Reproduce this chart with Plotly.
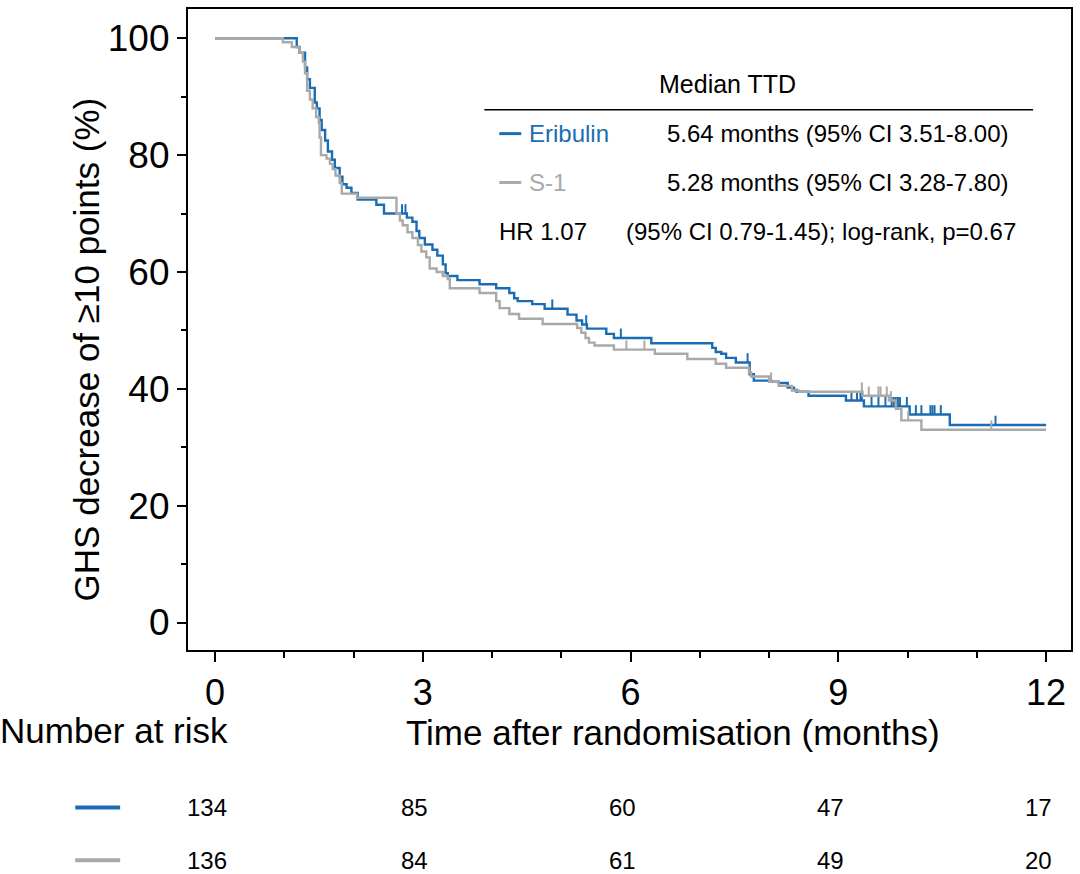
import plotly.graph_objects as go

# ---- data ----
eri_t = [0, 1.18, 1.22, 1.30, 1.33, 1.37, 1.44, 1.47, 1.51, 1.54, 1.59, 1.63, 1.69, 1.73, 1.80, 1.84,
         1.90, 1.97, 2.06, 2.33, 2.44, 2.77, 2.85, 2.91, 2.95, 3.03, 3.14, 3.21, 3.29, 3.33, 3.36,
         3.50, 3.82, 4.06, 4.25, 4.32, 4.37, 4.58, 4.76, 5.09, 5.22, 5.30, 5.37, 5.65, 5.76, 6.30,
         7.18, 7.23, 7.31, 7.38, 7.52, 7.72, 7.78, 8.03, 8.14, 8.27, 8.36, 8.40, 8.57, 9.11, 9.37,
         10.03, 10.61, 12.0]
eri_s = [100, 98.5, 97.5, 95.0, 93.0, 91.5, 89.0, 88.0, 86.0, 84.3, 82.5, 80.6, 79.2, 77.8, 76.3, 75.0,
         74.4, 73.5, 72.4, 71.5, 70.0, 69.3, 68.6, 67.0, 65.8, 64.7, 63.8, 62.8, 61.3, 59.8, 59.3,
         58.6, 57.9, 57.2, 56.4, 55.5, 55.0, 54.5, 53.7, 52.7, 51.7, 51.0, 50.3, 49.4, 48.7, 47.8,
         47.0, 46.3, 46.0, 45.3, 44.5, 42.5, 41.4, 41.2, 41.0, 40.2, 39.8, 39.5, 38.8, 38.0, 37.0,
         35.6, 33.8, 33.8]
eri_cens = [2.70, 2.75, 4.87, 5.36, 5.86, 7.69, 9.19, 9.27, 9.32, 9.34, 9.48, 9.58, 9.68, 9.77, 9.80,
            9.83, 9.86, 9.89, 9.99, 10.12, 10.20, 10.33, 10.36, 10.39, 10.48, 11.27]

s1_t = [0, 0.98, 1.11, 1.22, 1.27, 1.30, 1.33, 1.37, 1.41, 1.46, 1.50, 1.51, 1.53, 1.61, 1.66, 1.70,
        1.74, 1.80, 1.83, 2.05, 2.62, 2.67, 2.71, 2.78, 2.85, 2.93, 2.98, 3.05, 3.10, 3.20, 3.29,
        3.36, 3.39, 3.82, 4.06, 4.11, 4.25, 4.39, 4.73, 5.23, 5.29, 5.35, 5.40, 5.48, 5.76, 6.35,
        6.82, 7.23, 7.38, 7.71, 7.74, 8.00, 8.14, 8.33, 8.43, 9.35, 9.73, 9.83, 9.91, 10.20, 12.0]
s1_s = [100, 99.3, 98.5, 97.5, 96.0, 94.0, 91.0, 89.5, 88.0, 86.5, 85.5, 83.0, 80.0, 79.4, 78.5, 77.6,
        76.5, 75.2, 73.4, 72.7, 70.0, 68.8, 68.0, 66.8, 65.8, 64.6, 63.5, 62.5, 60.6, 60.0, 59.3,
        58.8, 57.2, 56.4, 55.0, 53.8, 52.8, 52.0, 51.1, 50.4, 49.6, 48.7, 47.9, 47.4, 46.7, 46.0,
        45.1, 44.3, 43.6, 42.8, 42.1, 41.2, 40.5, 39.7, 39.5, 38.8, 38.0, 36.6, 34.6, 33.0, 33.0]
s1_cens = [5.94, 6.20, 8.03, 9.34, 9.44, 9.58, 9.61, 9.70, 9.76, 10.01, 11.21]

risk_times = [0, 3, 6, 9, 12]
risk_eri = [134, 85, 60, 47, 17]
risk_s1 = [136, 84, 61, 49, 20]

x_ticks = [0, 3, 6, 9, 12]
y_ticks = [0, 20, 40, 60, 80, 100]

BLUE = "#1a6db2"
GREY = "#a9a9a9"
FONT = "Liberation Sans, Arial, Helvetica, sans-serif"


def step_value(times, surv, t):
    v = surv[0]
    for ti, si in zip(times, surv):
        if ti <= t:
            v = si
        else:
            break
    return v


def px(xp):
    return (xp - 188) / 885


def py(yp):
    return (650 - yp) / 643


fig = go.Figure()

for times, surv, cens, col in [(eri_t, eri_s, eri_cens, BLUE), (s1_t, s1_s, s1_cens, GREY)]:
    fig.add_trace(go.Scatter(x=times, y=surv, mode="lines", line=dict(color=col, width=2.4, shape="hv"),
                             showlegend=False, hoverinfo="skip"))
    cy = [step_value(times, surv, c) for c in cens]
    fig.add_trace(go.Scatter(x=cens, y=cy, mode="markers", marker=dict(size=1, color=col, opacity=0),
                             error_y=dict(type="data", symmetric=False, array=[1.6] * len(cens),
                                          arrayminus=[0] * len(cens), color=col, thickness=2, width=0),
                             showlegend=False, hoverinfo="skip"))

fig.update_layout(
    width=1080, height=874,
    margin=dict(l=188, r=7, t=7, b=224),
    paper_bgcolor="white", plot_bgcolor="white",
    font=dict(family=FONT, color="black"),
    xaxis=dict(range=[-0.39, 12.36], tickvals=x_ticks, ticktext=[str(v) for v in x_ticks],
               ticks="outside", ticklen=10, tickwidth=1.5, tickcolor="black",
               minor=dict(dtick=1, tick0=0, ticks="outside", ticklen=6, tickwidth=1.5, tickcolor="black"),
               showline=True, linecolor="black", linewidth=2.2, mirror=True, showgrid=False,
               zeroline=False, tickfont=dict(size=36, family=FONT)),
    yaxis=dict(range=[-4.7, 105], tickvals=y_ticks, ticktext=[str(v) for v in y_ticks],
               ticks="outside", ticklen=9, tickwidth=1.5, tickcolor="black",
               minor=dict(dtick=10, tick0=0, ticks="outside", ticklen=5, tickwidth=1.5, tickcolor="black"),
               showline=True, linecolor="black", linewidth=2.2, mirror=True, showgrid=False,
               zeroline=False, tickfont=dict(size=37, family=FONT)),
)

ann = []
# axis titles
ann.append(dict(text="GHS decrease of ≥10 points (%)", x=-0.115, y=py(348), xref="paper", yref="paper",
                textangle=-90, showarrow=False, font=dict(size=35), xanchor="center", yanchor="middle"))
ann.append(dict(text="Time after randomisation (months)", x=px(674), y=py(733),
                xref="paper", yref="paper", showarrow=False, font=dict(size=35),
                xanchor="center", yanchor="middle"))
ann.append(dict(text="Number at risk", x=px(-2), y=py(731), xref="paper", yref="paper",
                showarrow=False, font=dict(size=35), xanchor="left", yanchor="middle"))
# inset legend
ann.append(dict(text="Median TTD", x=px(729), y=py(82), xref="paper", yref="paper",
                showarrow=False, font=dict(size=25), xanchor="center", yanchor="middle"))
ann.append(dict(text="Eribulin", x=px(528), y=py(132), xref="paper", yref="paper",
                showarrow=False, font=dict(size=24, color=BLUE), xanchor="left", yanchor="middle"))
ann.append(dict(text="5.64 months (95% CI 3.51-8.00)", x=px(666), y=py(132),
                xref="paper", yref="paper", showarrow=False, font=dict(size=24),
                xanchor="left", yanchor="middle"))
ann.append(dict(text="S-1", x=px(528), y=py(181), xref="paper", yref="paper",
                showarrow=False, font=dict(size=24, color=GREY), xanchor="left", yanchor="middle"))
ann.append(dict(text="5.28 months (95% CI 3.28-7.80)", x=px(666), y=py(181),
                xref="paper", yref="paper", showarrow=False, font=dict(size=24),
                xanchor="left", yanchor="middle"))
ann.append(dict(text="HR 1.07", x=px(498), y=py(230), xref="paper", yref="paper",
                showarrow=False, font=dict(size=24), xanchor="left", yanchor="middle"))
ann.append(dict(text="(95% CI 0.79-1.45); log-rank, p=0.67", x=px(625), y=py(230),
                xref="paper", yref="paper", showarrow=False, font=dict(size=24),
                xanchor="left", yanchor="middle"))
# risk table
for t, a, b in zip(risk_times, risk_eri, risk_s1):
    ann.append(dict(text=str(a), x=t, y=py(808), xref="x", yref="paper", showarrow=False,
                    font=dict(size=24), xanchor="center", yanchor="middle", xshift=-8))
    ann.append(dict(text=str(b), x=t, y=py(861), xref="x", yref="paper", showarrow=False,
                    font=dict(size=24), xanchor="center", yanchor="middle", xshift=-8))
fig.update_layout(annotations=ann)

shapes = [
    dict(type="line", xref="paper", yref="paper", x0=px(485), x1=px(1035),
         y0=py(108), y1=py(108), line=dict(color="black", width=1.5)),
    dict(type="line", xref="paper", yref="paper", x0=px(500), x1=px(522),
         y0=py(132), y1=py(132), line=dict(color=BLUE, width=3)),
    dict(type="line", xref="paper", yref="paper", x0=px(500), x1=px(522),
         y0=py(181), y1=py(181), line=dict(color=GREY, width=3)),
    dict(type="line", xref="paper", yref="paper", x0=px(75), x1=px(120),
         y0=py(808), y1=py(808), line=dict(color=BLUE, width=4)),
    dict(type="line", xref="paper", yref="paper", x0=px(75), x1=px(120),
         y0=py(861), y1=py(861), line=dict(color=GREY, width=4)),
]
fig.update_layout(shapes=shapes)

fig.write_html("out.html")
